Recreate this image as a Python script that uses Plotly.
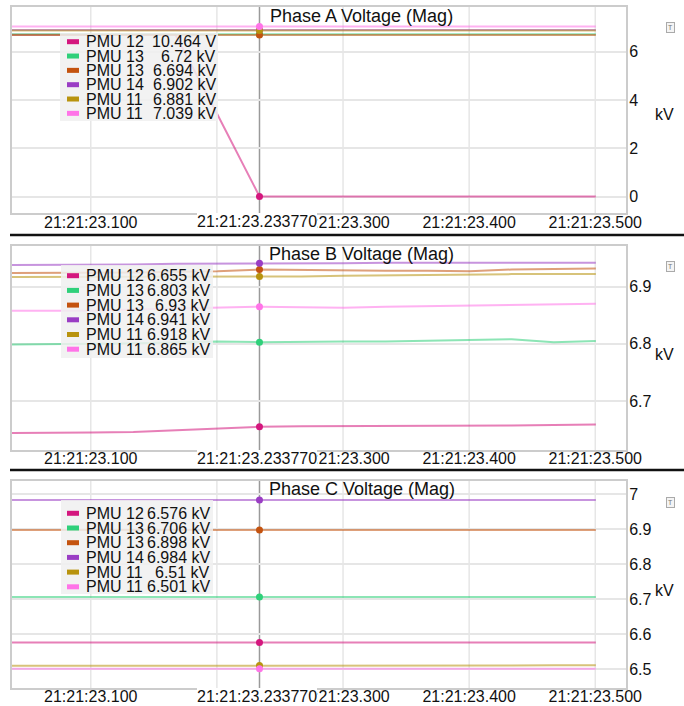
import plotly.graph_objects as go
from plotly.subplots import make_subplots

# ---------------- data ----------------
DAY = "2000-01-01 "
TIMES = ["21:21:23.033770", "21:21:23.067103", "21:21:23.100437", "21:21:23.133770",
         "21:21:23.167103", "21:21:23.200437", "21:21:23.233770", "21:21:23.267103",
         "21:21:23.300437", "21:21:23.333770", "21:21:23.367103", "21:21:23.400437",
         "21:21:23.433770", "21:21:23.467103", "21:21:23.500437"]
CROSSHAIR_TIME = "21:21:23.233770"
TICK_LABELS = ["21:21:23.100", "21:21:23.300", "21:21:23.400", "21:21:23.500"]
GRID_TIMES = ["21:21:23.100", "21:21:23.200", "21:21:23.300", "21:21:23.400", "21:21:23.500"]

SERIES_NAMES = ["PMU 12", "PMU 13", "PMU 13", "PMU 14", "PMU 11", "PMU 11"]
SERIES_COLORS = ["#d4177e", "#2fd07a", "#c4530f", "#9a3dc4", "#b8930e", "#ff74e8"]
PANE_TITLES = ["Phase A Voltage (Mag)", "Phase B Voltage (Mag)", "Phase C Voltage (Mag)"]
UNIT = "kV"

# Phase A (kV)
A_PMU12 = [6.70, 6.70, 6.70, 6.70, 6.70, 3.40, 0.010464, 0.0105, 0.0105, 0.0105, 0.0105, 0.0105, 0.0105, 0.0105, 0.0105]
A_PMU13a = [6.72] * 15
A_PMU13b = [6.694] * 15
A_PMU14 = [6.902] * 15
A_PMU11a = [6.881] * 15
A_PMU11b = [7.039] * 15

# Phase B (kV)
B_PMU12 = [6.644, 6.644, 6.645, 6.646, 6.649, 6.653, 6.655, 6.656, 6.656, 6.656, 6.657, 6.657, 6.657, 6.658, 6.659]
B_PMU13a = [6.799, 6.799, 6.800, 6.801, 6.803, 6.804, 6.803, 6.804, 6.804, 6.804, 6.805, 6.806, 6.808, 6.803, 6.805]
B_PMU13b = [6.924, 6.924, 6.924, 6.925, 6.926, 6.927, 6.930, 6.929, 6.929, 6.928, 6.928, 6.927, 6.930, 6.931, 6.932]
B_PMU14 = [6.938, 6.938, 6.939, 6.939, 6.940, 6.940, 6.941, 6.941, 6.941, 6.942, 6.942, 6.942, 6.942, 6.942, 6.942]
B_PMU11a = [6.917, 6.917, 6.917, 6.917, 6.918, 6.918, 6.918, 6.918, 6.919, 6.920, 6.921, 6.922, 6.922, 6.922, 6.922]
B_PMU11b = [6.858, 6.858, 6.858, 6.860, 6.862, 6.864, 6.865, 6.864, 6.863, 6.865, 6.866, 6.867, 6.868, 6.869, 6.870]

# Phase C (kV)
C_PMU12 = [6.576] * 15
C_PMU13a = [6.706] * 15
C_PMU13b = [6.898] * 15
C_PMU14 = [6.984] * 15
C_PMU11a = [6.509, 6.509, 6.509, 6.510, 6.510, 6.510, 6.510, 6.509, 6.508, 6.508, 6.509, 6.509, 6.510, 6.511, 6.511]
C_PMU11b = [6.501] * 15

PHASES = [
    [A_PMU12, A_PMU13a, A_PMU13b, A_PMU14, A_PMU11a, A_PMU11b],
    [B_PMU12, B_PMU13a, B_PMU13b, B_PMU14, B_PMU11a, B_PMU11b],
    [C_PMU12, C_PMU13a, C_PMU13b, C_PMU14, C_PMU11a, C_PMU11b],
]

# ---------------- layout helpers ----------------
W, H = 684, 706
FONT = "Liberation Sans, Arial, sans-serif"
GRID = "#e6e6e6"


def px(x):
    return x / W


def py(y):
    return 1 - y / H


X_LEFT, X_RIGHT = 12, 626
PANES = [
    dict(top=6.7, bot=213.3, rng=[-0.687, 7.862], dtick=2, laby=221.7,
         box=(60, 33, 218, 121), row0=41.7, step=14.33, valx=217.5, titley=16, kvy=115),
    dict(top=246, bot=450, rng=[6.6143, 6.9712], dtick=0.1, laby=458.3,
         box=(61, 265, 213, 358), row0=275.7, step=14.7, valx=211.5, titley=254, kvy=354),
    dict(top=481, bot=688, rng=[6.4456, 7.0383], dtick=0.1, laby=696.7,
         box=(61, 500, 213, 594), row0=513.3, step=14.7, valx=211.5, titley=488.5, kvy=590),
]
SEPARATORS = [235, 470]

times = [DAY + t for t in TIMES]
cross = DAY + CROSSHAIR_TIME
ci = TIMES.index(CROSSHAIR_TIME)


def fmt(v):
    if abs(v) < 1:
        return f"{v * 1000:.3f} V"
    s = f"{v:.3f}".rstrip("0").rstrip(".")
    return s + " " + UNIT


fig = make_subplots(rows=3, cols=1)
shapes = []
annotations = []

for p, series in enumerate(PHASES):
    row = p + 1
    for s, vals in enumerate(series):
        fig.add_trace(go.Scatter(x=times, y=vals, mode="lines",
                                 line=dict(color=SERIES_COLORS[s], width=2),
                                 opacity=0.55, showlegend=False, hoverinfo="skip"),
                      row=row, col=1)
    for s, vals in enumerate(series):
        fig.add_trace(go.Scatter(x=[cross], y=[vals[ci]], mode="markers",
                                 marker=dict(color=SERIES_COLORS[s], size=7),
                                 showlegend=False, hoverinfo="skip"),
                      row=row, col=1)

    pn = PANES[p]
    sfx = "" if p == 0 else str(p + 1)
    fig.layout["xaxis" + sfx].update(
        domain=[px(X_LEFT), px(X_RIGHT)], type="date", automargin=False,
        range=[DAY + "21:21:23.03754", DAY + "21:21:23.52437"],
        tickmode="array", tickvals=[DAY + t for t in TICK_LABELS], ticktext=TICK_LABELS,
        showgrid=False, ticklabelstandoff=-7,
        showline=True, mirror=True, linecolor="#cccccc", linewidth=2,
        zeroline=False, ticks="", tickfont=dict(size=16, color="#111", family=FONT),
    )
    fig.layout["yaxis" + sfx].update(
        domain=[py(pn["bot"]), py(pn["top"])], side="right", range=pn["rng"], automargin=False,
        tick0=0, dtick=pn["dtick"], showgrid=True, gridcolor=GRID, gridwidth=1.5,
        showline=True, mirror=True, linecolor="#cccccc", linewidth=2, ticklabelstandoff=-2,
        zeroline=False, ticks="", tickfont=dict(size=16, color="#111", family=FONT),
    )

    # vertical grid lines (incl. the one hidden under the crosshair label)
    for g in GRID_TIMES:
        shapes.append(dict(type="line", xref="x" + sfx, yref="paper",
                           x0=DAY + g, x1=DAY + g, y0=py(pn["bot"]), y1=py(pn["top"]),
                           layer="below", line=dict(color=GRID, width=1.5)))
    # crosshair
    shapes.append(dict(type="line", xref="x" + sfx, yref="paper",
                       x0=cross, x1=cross, y0=py(pn["bot"]), y1=py(pn["top"]), layer="below",
                       line=dict(color="#9a9a9a", width=1.5)))
    annotations.append(dict(x=cross, xref="x" + sfx, y=py(pn["laby"]), yref="paper",
                            text=CROSSHAIR_TIME, showarrow=False, bgcolor="white",
                            borderpad=0, borderwidth=0, xanchor="center", yanchor="middle",
                            xshift=-2.5, font=dict(size=16, color="#111", family=FONT)))
    # title
    annotations.append(dict(x=px(361.7), y=py(pn["titley"]), xref="paper", yref="paper",
                            text=PANE_TITLES[p], showarrow=False, xanchor="center",
                            yanchor="middle", font=dict(size=18, color="#111", family=FONT)))
    # unit
    annotations.append(dict(x=px(664), y=py(pn["kvy"]), xref="paper", yref="paper",
                            text=UNIT, showarrow=False, xanchor="center", yanchor="middle",
                            font=dict(size=16, color="#111", family=FONT)))
    # small icon
    annotations.append(dict(x=px(670), y=py(pn["top"] + 21), xref="paper", yref="paper",
                            text="T", showarrow=False, xanchor="center", yanchor="middle",
                            font=dict(size=7, color="#777", family=FONT),
                            bordercolor="#aaaaaa", borderwidth=1, borderpad=1,
                            bgcolor="#f4f4f4"))
    # legend box
    bx0, by0, bx1, by1 = pn["box"]
    shapes.append(dict(type="rect", xref="paper", yref="paper",
                       x0=px(bx0), x1=px(bx1), y0=py(by1), y1=py(by0),
                       fillcolor="rgba(240,240,240,0.85)", line=dict(width=0), layer="above"))
    for s, vals in enumerate(series):
        yc = pn["row0"] + s * pn["step"]
        shapes.append(dict(type="rect", xref="paper", yref="paper",
                           x0=px(67), x1=px(79), y0=py(yc + 2.5), y1=py(yc - 2.5),
                           fillcolor=SERIES_COLORS[s], line=dict(width=0), layer="above"))
        annotations.append(dict(x=px(83.5), y=py(yc), xref="paper", yref="paper",
                                text=SERIES_NAMES[s], showarrow=False, xanchor="left",
                                yanchor="middle", font=dict(size=16, color="#111", family=FONT)))
        annotations.append(dict(x=px(pn["valx"]), y=py(yc), xref="paper", yref="paper",
                                text=fmt(vals[ci]), showarrow=False, xanchor="right",
                                yanchor="middle", font=dict(size=16, color="#111", family=FONT)))

for sy in SEPARATORS:
    shapes.append(dict(type="line", xref="paper", yref="paper", x0=px(10), x1=1,
                       y0=py(sy), y1=py(sy), line=dict(color="#111", width=2.5)))

fig.update_layout(width=W, height=H, margin=dict(l=0, r=0, t=0, b=0, autoexpand=False),
                  paper_bgcolor="white", plot_bgcolor="white",
                  font=dict(family=FONT, size=16, color="#111"),
                  shapes=shapes, annotations=annotations, showlegend=False)

fig.write_html("out.html", config={"displayModeBar": False},
               post_script="document.body.style.margin='0px';")
